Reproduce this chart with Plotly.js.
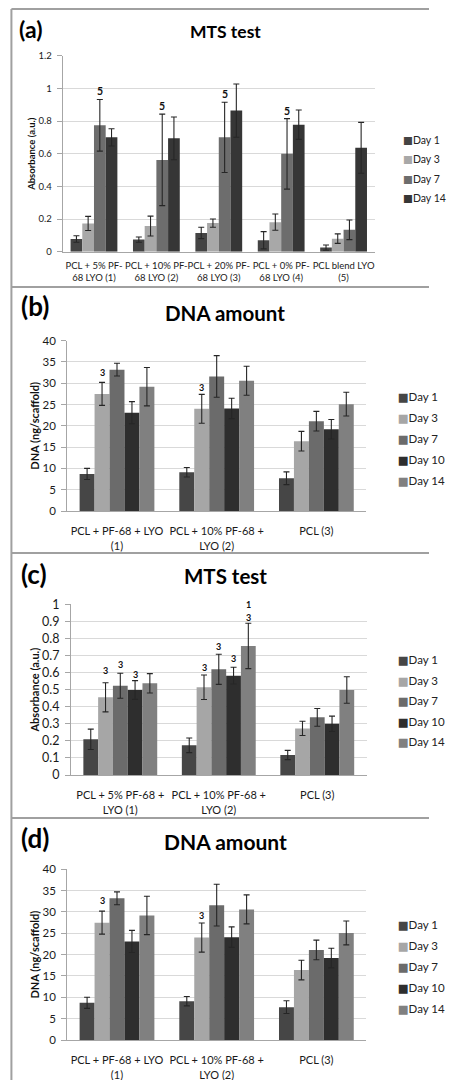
<!DOCTYPE html>
<html><head><meta charset="utf-8">
<script src="https://cdn.plot.ly/plotly-3.0.1.min.js"></script>
<style>html,body{margin:0;padding:0;background:#fff}</style>
</head><body><div id="chart" style="width:451px;height:1080px"></div>
<script>
// ---------- DATA ----------
const catsA = ['PCL + 5% PF-<br>68 LYO (1)', 'PCL + 10% PF-<br>68 LYO (2)', 'PCL + 20% PF-<br>68 LYO (3)', 'PCL + 0% PF-<br>68 LYO (4)', 'PCL blend LYO<br>(5)'];
const seriesA = ['Day 1', 'Day 3', 'Day 7', 'Day 14'];
const a_day1 = [0.078, 0.074, 0.115, 0.070, 0.025];
const a_day3 = [0.173, 0.157, 0.175, 0.181, 0.080];
const a_day7 = [0.774, 0.562, 0.700, 0.599, 0.134];
const a_day14 = [0.700, 0.694, 0.864, 0.778, 0.636];
const a_err1 = [0.020, 0.016, 0.035, 0.053, 0.016];
const a_err3 = [0.043, 0.061, 0.025, 0.050, 0.029];
const a_err7 = [0.158, 0.280, 0.215, 0.216, 0.060];
const a_err14 = [0.053, 0.131, 0.163, 0.090, 0.156];
const a_lblGroup = [0, 1, 2, 3];
const a_lblSeries = [2, 2, 2, 2];
const a_lblY = [0.981, 0.893, 0.967, 0.864];
const a_lblText = ['5', '5', '5', '5'];

const catsB = ['PCL + PF-68 + LYO<br>(1)', 'PCL + 10% PF-68 +<br>LYO (2)', 'PCL (3)'];
const seriesB = ['Day 1', 'Day 3', 'Day 7', 'Day 10', 'Day 14'];
const b_day1 = [8.7, 9.1, 7.7];
const b_day3 = [27.5, 24.0, 16.4];
const b_day7 = [33.2, 31.6, 21.1];
const b_day10 = [23.1, 24.1, 19.2];
const b_day14 = [29.2, 30.6, 25.1];
const b_err1 = [1.3, 1.1, 1.5];
const b_err3 = [2.7, 3.4, 2.3];
const b_err7 = [1.5, 4.9, 2.3];
const b_err10 = [2.6, 2.4, 2.3];
const b_err14 = [4.5, 3.4, 2.8];
const b_lblGroup = [0, 1];
const b_lblSeries = [1, 1];
const b_lblY = [32.6, 29.1];
const b_lblText = ['3', '3'];

const catsC = ['PCL + 5% PF-68 +<br>LYO (1)', 'PCL + 10% PF-68 +<br>LYO (2)', 'PCL (3)'];
const seriesC = ['Day 1', 'Day 3', 'Day 7', 'Day 10', 'Day 14'];
const c_day1 = [0.209, 0.174, 0.117];
const c_day3 = [0.455, 0.514, 0.273];
const c_day7 = [0.523, 0.619, 0.338];
const c_day10 = [0.498, 0.582, 0.300];
const c_day14 = [0.537, 0.756, 0.498];
const c_err1 = [0.060, 0.043, 0.027];
const c_err3 = [0.085, 0.072, 0.042];
const c_err7 = [0.073, 0.088, 0.052];
const c_err10 = [0.055, 0.049, 0.045];
const c_err14 = [0.057, 0.133, 0.078];
const c_lblGroup = [0, 0, 0, 1, 1, 1, 1, 1];
const c_lblSeries = [1, 2, 3, 1, 2, 3, 4, 4];
const c_lblY = [0.615, 0.645, 0.590, 0.631, 0.752, 0.684, 0.996, 0.924];
const c_lblText = ['3', '3', '3', '3', '3', '3', '1', '3'];

// ---------- STYLE ----------
const W = 451, H = 1080;
const FONT = 'Lato, "DejaVu Sans", sans-serif';
const BARGAP = 0.25;
const colorsA = ['#444444', '#a8a8a8', '#6d6d6d', '#363636'];
const colorsB = ['#464646', '#a6a6a6', '#6b6b6b', '#2e2e2e', '#808080'];
const px = x => x / W;
const py = y => 1 - y / H;

const traces = [];
const annotations = [];

function addPanel(n, cats, names, vals, errs, colors, lbl, lblFont) {
  const xa = n === 1 ? 'x' : 'x' + n;
  const ya = n === 1 ? 'y' : 'y' + n;
  const legName = n === 1 ? 'legend' : 'legend' + n;
  names.forEach((nm, i) => {
    traces.push({
      type: 'bar', x: cats, y: vals[i], name: nm, xaxis: xa, yaxis: ya,
      marker: {color: colors[i], line: {width: 0}},
      error_y: {type: 'data', array: errs[i], visible: true, color: '#262626', thickness: 1.1, width: 3},
      showlegend: false, hoverinfo: 'y'
    });
  });
  names.forEach((nm, i) => {
    traces.push({
      type: 'scatter', mode: 'none', x: [null], y: [null], xaxis: xa, yaxis: ya,
      name: '<span style="color:' + colors[i] + '">■</span>' + nm,
      legend: legName, legendgroup: 'p' + n + '_' + i, showlegend: true, hoverinfo: 'skip'
    });
  });
  const ns = names.length;
  const bw = (1 - BARGAP) / ns;
  lbl.g.forEach((g, j) => {
    annotations.push({
      xref: xa, yref: ya, x: g - (1 - BARGAP) / 2 + (lbl.s[j] + 0.5) * bw, y: lbl.y[j],
      text: lbl.t[j], showarrow: false, xanchor: 'center', yanchor: 'middle',
      font: {family: FONT, size: lblFont, color: '#111', weight: 700}
    });
  });
}

addPanel(1, catsA, seriesA, [a_day1, a_day3, a_day7, a_day14], [a_err1, a_err3, a_err7, a_err14], colorsA,
  {g: a_lblGroup, s: a_lblSeries, y: a_lblY, t: a_lblText}, 10.5);
addPanel(2, catsB, seriesB, [b_day1, b_day3, b_day7, b_day10, b_day14], [b_err1, b_err3, b_err7, b_err10, b_err14], colorsB,
  {g: b_lblGroup, s: b_lblSeries, y: b_lblY, t: b_lblText}, 9);
addPanel(3, catsC, seriesC, [c_day1, c_day3, c_day7, c_day10, c_day14], [c_err1, c_err3, c_err7, c_err10, c_err14], colorsB,
  {g: c_lblGroup, s: c_lblSeries, y: c_lblY, t: c_lblText}, 9);
addPanel(4, catsB, seriesB, [b_day1, b_day3, b_day7, b_day10, b_day14], [b_err1, b_err3, b_err7, b_err10, b_err14], colorsB,
  {g: b_lblGroup, s: b_lblSeries, y: b_lblY, t: b_lblText}, 9);

function xAxis(l, r, anchor, fs, standoff) {
  return {domain: [px(l), px(r)], anchor: anchor, type: 'category', showline: true, linecolor: '#a6a6a6', linewidth: 1,
    showgrid: false, zeroline: false, ticks: '', tickangle: 0, ticklabelstandoff: standoff,
    tickfont: {family: FONT, size: fs, color: '#1a1a1a'}, fixedrange: true};
}
function yAxis(b, t, anchor, range, dtick, fs, title, tfs, standoff) {
  return {domain: [py(b), py(t)], anchor: anchor, range: range, dtick: dtick, tick0: 0, showgrid: true, gridcolor: '#d9d9d9', gridwidth: 1,
    zeroline: false, showline: true, linecolor: '#a6a6a6', linewidth: 1, ticks: 'outside', ticklen: 5, tickcolor: '#a6a6a6',
    tickfont: {family: FONT, size: fs, color: '#1a1a1a'}, ticklabelstandoff: 3,
    title: {text: title, font: {family: FONT, size: tfs, color: '#111', weight: 700}, standoff: standoff}, fixedrange: true};
}
function legend(x, yTop, fs, gap) {
  return {x: px(x), y: py(yTop), xanchor: 'left', yanchor: 'top', bgcolor: 'rgba(0,0,0,0)', borderwidth: 0,
    font: {family: FONT, size: fs, color: '#222'}, tracegroupgap: gap, itemclick: false, itemdoubleclick: false};
}
function txt(x, y, s, size) {
  return {xref: 'paper', yref: 'paper', x: px(x), y: py(y), text: s, showarrow: false, xanchor: 'center', yanchor: 'middle',
    font: {family: FONT, size: size, color: '#000', weight: 700}};
}
annotations.push(txt(32, 29.5, '(a)', 23), txt(237.5, 31.7, 'MTS test', 17.5));
annotations.push(txt(37, 306, '(b)', 26), txt(237, 313.3, 'DNA amount', 20.5));
annotations.push(txt(36, 573.5, '(c)', 26), txt(237.5, 576, 'MTS test', 20.5));
annotations.push(txt(37, 838, '(d)', 26), txt(237.5, 841, 'DNA amount', 21));

const border = {color: '#a0a0a0', width: 2};
const shapes = [9, 287, 553, 818].map(y => ({type: 'line', xref: 'paper', yref: 'paper', x0: px(12), x1: 1, y0: py(y), y1: py(y), line: border}));
shapes.push({type: 'line', xref: 'paper', yref: 'paper', x0: px(12), x1: px(12), y0: py(9), y1: 0, line: border});

const layout = {
  width: W, height: H, margin: {l: 0, r: 0, t: 0, b: 0}, paper_bgcolor: '#fff', plot_bgcolor: '#fff',
  barmode: 'group', bargap: BARGAP, bargroupgap: 0, hovermode: false,
  font: {family: FONT},
  xaxis: xAxis(66, 394, 'y', 9.5, 5),
  yaxis: yAxis(251.7, 55.7, 'x', [0, 1.2], 0.2, 9.5, 'Absorbance (a.u.)', 9.5, 1),
  xaxis2: xAxis(70.6, 385, 'y2', 11, 10),
  yaxis2: yAxis(511, 340.7, 'x2', [0, 40], 5, 11.5, 'DNA (ng/scaffold)', 11, 0),
  xaxis3: xAxis(74.7, 385.3, 'y3', 11, 10),
  yaxis3: yAxis(775, 604.3, 'x3', [0, 1], 0.1, 12.5, 'Absorbance (a.u.)', 11, 0),
  xaxis4: xAxis(70.6, 385, 'y4', 11, 10),
  yaxis4: yAxis(1040, 869.3, 'x4', [0, 40], 5, 11.5, 'DNA (ng/scaffold)', 11, 0),
  legend: legend(382, 125, 10.5, 0.5),
  legend2: legend(376, 382, 11.5, 2),
  legend3: legend(376, 645, 11.5, 1.5),
  legend4: legend(376, 910, 11.5, 2),
  annotations: annotations,
  shapes: shapes
};
Plotly.newPlot('chart', traces, layout, {displayModeBar: false, staticPlot: true});
</script></body></html>
